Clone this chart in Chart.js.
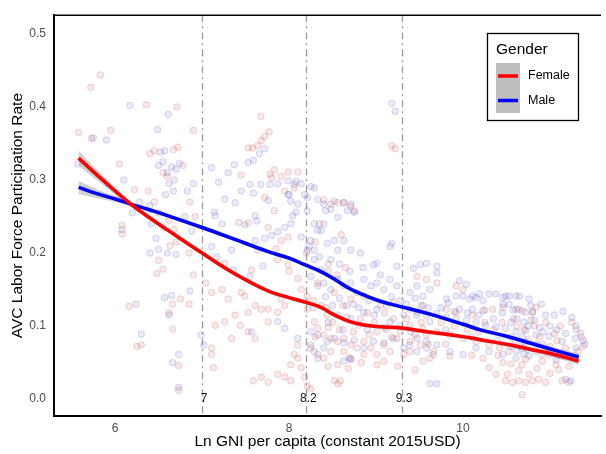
<!DOCTYPE html>
<html>
<head>
<meta charset="utf-8">
<script src="https://cdn.jsdelivr.net/npm/chart.js@4"></script>
<style>
  html, body { margin: 0; padding: 0; background: #fff; }
  canvas { display: block; }
</style>
</head>
<body>
<canvas id="chart" width="606" height="454"></canvas>
<script>
// AVC labor force participation vs. ln GNI per capita, by gender
const seriesNames = ["Female", "Male"];
const xTicks = [6, 8, 10];
const xTickLabels = ["6", "8", "10"];
const yTicks = [0, 0.1, 0.2, 0.3, 0.4, 0.5];
const yTickLabels = ["0.0", "0.1", "0.2", "0.3", "0.4", "0.5"];
const cutoffs = [7, 8.2, 9.3];
const cutoffLabels = ["7", "8.2", "9.3"];

// smoothed fits and their standard errors
const fitX = [5.58, 5.8, 6.0, 6.18, 6.4, 6.61, 7.0, 7.37, 7.76, 8.0, 8.18, 8.36, 8.51, 8.70, 8.89, 9.05, 9.27, 9.6, 10.0, 10.21, 10.5, 10.78, 11.05, 11.33];
const femaleFit = [0.330, 0.306, 0.285, 0.267, 0.248, 0.231, 0.200, 0.172, 0.148, 0.139, 0.133, 0.126, 0.116, 0.106, 0.101, 0.099, 0.0976, 0.092, 0.0855, 0.081, 0.075, 0.068, 0.061, 0.052];
const maleFit = [0.290, 0.281, 0.274, 0.267, 0.259, 0.251, 0.235, 0.219, 0.202, 0.193, 0.184, 0.175, 0.165, 0.151, 0.141, 0.134, 0.127, 0.117, 0.1025, 0.0945, 0.086, 0.0765, 0.067, 0.0577];
const femaleSE = [0.010, 0.007, 0.005, 0.004, 0.003, 0.003, 0.003, 0.003, 0.003, 0.003, 0.003, 0.003, 0.003, 0.003, 0.003, 0.003, 0.003, 0.003, 0.003, 0.003, 0.003, 0.003, 0.004, 0.005];
const maleSE = [0.009, 0.006, 0.004, 0.003, 0.003, 0.003, 0.003, 0.003, 0.003, 0.003, 0.003, 0.003, 0.003, 0.003, 0.003, 0.003, 0.003, 0.003, 0.003, 0.003, 0.003, 0.003, 0.004, 0.005];

// country-year observations [ln GNI, rate]
const femalePts = [
  [5.58,0.365],[5.72,0.427],[5.83,0.444],[5.75,0.358],[5.95,0.368],[6.05,0.322],[6.08,0.238],[6.08,0.226],[6.16,0.127],[6.25,0.072],[6.30,0.074],[6.22,0.287],
  [6.36,0.403],[6.71,0.400],[6.40,0.336],[6.45,0.340],[6.55,0.310],[6.60,0.305],[6.67,0.342],[6.72,0.345],[6.78,0.320],[6.90,0.368],[6.45,0.270],[6.50,0.255],
  [6.55,0.235],[6.62,0.245],[6.63,0.210],[6.68,0.232],[6.50,0.190],[6.48,0.172],[6.55,0.178],[6.70,0.215],[6.85,0.200],[6.66,0.130],[6.66,0.096],[6.73,0.046],
  [6.73,0.012],[6.85,0.130],[6.75,0.137],[6.86,0.270],[6.92,0.250],[6.38,0.285],[6.62,0.118],[6.90,0.170],
  [7.675,0.387],[7.77,0.366],[7.72,0.360],[7.68,0.354],[7.64,0.347],[7.58,0.344],[7.53,0.344],
  [7.45,0.307],[7.78,0.308],[7.91,0.305],[7.99,0.311],[7.83,0.314],
  [7.42,0.242],[7.53,0.241],[7.76,0.235],[7.85,0.206],[7.91,0.217],[7.99,0.222],
  [7.26,0.186],[7.57,0.177],[7.87,0.191],[7.99,0.184],
  [7.11,0.146],[7.23,0.150],[7.30,0.137],[7.49,0.141],[7.61,0.128],[7.53,0.119],[7.68,0.123],[7.38,0.115],[7.44,0.101],[7.15,0.101],[7.26,0.106],[7.34,0.083],
  [7.53,0.092],[7.61,0.083],[7.11,0.070],[7.11,0.061],[7.13,0.043],[7.76,0.106],[7.87,0.119],[7.95,0.128],
  [7.59,0.025],[7.68,0.030],[7.76,0.023],[7.87,0.034],[7.95,0.030],[8.02,0.025],[8.06,0.061],[8.10,0.056],[8.18,0.030],[8.21,0.018],[8.25,0.014],[8.52,0.025],
  [8.56,0.021],[8.59,0.025],
  [8.40,0.273],[8.48,0.267],[8.56,0.269],[8.63,0.269],[8.71,0.264],[8.75,0.258],[8.06,0.289],[7.80,0.303],[7.95,0.285],[7.83,0.258],[7.72,0.276],[8.10,0.311],
  [9.18,0.347],[9.22,0.343],
  [8.21,0.123],[8.29,0.106],[8.33,0.097],[8.40,0.088],[8.48,0.083],[8.56,0.079],[8.63,0.083],[8.71,0.074],[8.78,0.070],[8.86,0.079],[8.94,0.070],[9.01,0.061],
  [9.09,0.074],[9.16,0.065],[9.24,0.083],[9.39,0.079],[9.51,0.074],[9.58,0.088],[8.25,0.070],[8.33,0.061],[8.40,0.056],[8.48,0.065],[8.56,0.047],[8.71,0.056],
  [8.10,0.074],[8.02,0.047],[8.14,0.043],[8.63,0.065],[8.86,0.061],[9.01,0.047],[9.09,0.052],[9.32,0.061],[9.39,0.065],[9.54,0.052],[9.62,0.056],
  [8.33,0.159],[8.52,0.146],[8.71,0.137],[8.86,0.141],[9.05,0.128],[9.20,0.132],[9.39,0.123],[9.54,0.128],[8.44,0.115],[8.82,0.110],[9.20,0.110],[9.39,0.101],
  [9.01,0.092],
  [7.04,0.159],[7.45,0.146],[7.76,0.123],[7.91,0.137],[8.14,0.150],[8.21,0.141],[8.37,0.128],
  [9.47,0.168],[9.58,0.164],[9.70,0.159],[9.92,0.155],[10.0,0.150],[9.81,0.123],[9.92,0.119],[10.11,0.115],[10.23,0.121],[10.34,0.123],[10.46,0.126],[10.61,0.123],
  [10.68,0.121],[10.80,0.119],[10.84,0.126],[9.54,0.097],[9.70,0.092],[9.85,0.088],[10.0,0.083],[10.15,0.079],[10.30,0.074],[10.42,0.070],[10.53,0.065],[10.68,0.070],
  [10.84,0.065],[10.99,0.061],[11.14,0.059],[11.29,0.056],[9.66,0.065],[9.85,0.059],[10.23,0.056],[10.46,0.050],[10.68,0.047],[10.91,0.052],[11.07,0.047],[11.22,0.045],
  [10.30,0.043],[10.38,0.034],[10.49,0.025],[10.57,0.023],[10.64,0.025],[10.72,0.023],[10.80,0.025],[10.87,0.027],[10.95,0.023],[10.68,0.006],[11.14,0.025],[11.22,0.023],
  [10.51,0.034],[10.64,0.039],[10.76,0.034],
  [11.30,0.095],[11.36,0.085],[11.25,0.105],[11.38,0.072],[11.32,0.065],[11.05,0.090],[11.12,0.100],[10.95,0.105],
  [8.20,0.200],[8.30,0.215],[8.45,0.185],[8.55,0.170],[8.65,0.180],[8.00,0.175],[8.10,0.165],[8.60,0.225],[8.35,0.240],
  [8.28,0.135],[8.42,0.125],[8.50,0.105],[8.58,0.095],[8.66,0.112],[8.74,0.092],[8.80,0.101],[8.92,0.088],[8.98,0.105],[9.12,0.095],[9.18,0.085],[9.28,0.092],
  [9.35,0.110],[9.45,0.088],[9.52,0.105],[9.60,0.075],[8.45,0.098],[8.62,0.128],[8.90,0.118],[9.10,0.118],[8.30,0.085],[8.45,0.045],[8.68,0.042],[8.83,0.050],
  [9.25,0.045],[9.45,0.040],
  [10.35,0.095],[10.45,0.105],[10.55,0.085],[10.62,0.100],[10.70,0.095],[10.75,0.082],[10.82,0.100],[10.88,0.085],[10.92,0.075],[11.00,0.072],[11.08,0.080],[11.18,0.070],
  [10.58,0.110],[10.78,0.108],[10.40,0.060],[10.55,0.048],[10.72,0.055],[10.85,0.042],[11.00,0.035],[11.10,0.040],
  [9.75,0.105],[9.90,0.100],[10.05,0.095],[10.18,0.092],[10.25,0.105],[9.80,0.075],[10.10,0.060]
];
const malePts = [
  [5.57,0.322],[5.73,0.357],[5.90,0.355],[6.17,0.402],[6.10,0.300],[6.20,0.255],[6.24,0.130],[6.30,0.089],[6.08,0.232],[6.28,0.270],
  [6.61,0.390],[6.49,0.369],[6.52,0.338],[6.57,0.340],[6.50,0.320],[6.55,0.325],[6.60,0.310],[6.65,0.318],[6.68,0.300],[6.70,0.315],[6.74,0.323],[6.62,0.295],
  [6.67,0.285],[6.58,0.280],[6.40,0.265],[6.42,0.240],[6.47,0.220],[6.50,0.205],[6.60,0.200],[6.70,0.198],[6.57,0.139],[6.65,0.142],[6.62,0.115],[6.73,0.061],
  [6.66,0.050],[6.73,0.016],[6.86,0.148],[6.80,0.250],[6.88,0.230],[6.83,0.285],[6.90,0.295],[6.40,0.200],
  [7.72,0.343],[7.66,0.336],[7.59,0.327],[7.53,0.324],
  [7.37,0.321],[7.11,0.317],[7.19,0.297],[7.30,0.310],[7.45,0.285],[7.55,0.294],[7.59,0.282],[7.675,0.294],[7.78,0.294],[7.87,0.295],[7.99,0.299],
  [7.26,0.274],[7.38,0.269],[7.76,0.272],[8.00,0.280],
  [7.14,0.256],[7.15,0.251],[7.23,0.240],[7.49,0.239],[7.61,0.251],[7.63,0.244],[7.72,0.220],[7.80,0.224],[7.87,0.229],[7.95,0.235],[8.02,0.240],[8.04,0.251],
  [8.08,0.256],
  [7.11,0.209],[7.17,0.195],[7.34,0.204],[7.61,0.217],[7.64,0.204],[7.70,0.182],[7.55,0.168],[7.36,0.177],
  [7.57,0.092],[7.87,0.106],[7.95,0.097],[8.10,0.083],[8.25,0.074],[8.29,0.065],[8.33,0.056],[8.40,0.070],[8.63,0.052],[8.69,0.056],[7.02,0.074],[6.99,0.088],
  [8.06,0.294],[8.08,0.298],[8.14,0.295],[8.25,0.291],[8.29,0.289],[8.40,0.267],[8.42,0.258],[8.48,0.260],[8.33,0.273],[7.99,0.280],[8.02,0.271],[8.10,0.267],
  [8.21,0.276],[8.52,0.271],[8.63,0.269],[8.71,0.267],[8.67,0.258],[8.75,0.256],[8.56,0.249],[8.40,0.240],[8.33,0.231],[8.25,0.217],[8.23,0.209],[8.29,0.204],
  [8.44,0.213],[8.52,0.217],[8.63,0.217],[8.56,0.204],[8.71,0.204],[8.82,0.200],[9.01,0.186],[9.16,0.209],[9.18,0.213],[9.24,0.182],[8.97,0.184],
  [9.18,0.405],[9.22,0.394],
  [8.25,0.168],[8.33,0.155],[8.40,0.159],[8.48,0.150],[8.56,0.164],[8.63,0.155],[8.71,0.159],[8.78,0.146],[8.86,0.164],[8.94,0.155],[9.01,0.159],[9.09,0.150],
  [9.16,0.164],[9.24,0.155],[9.39,0.146],[9.47,0.155],[9.54,0.141],[9.62,0.150],[8.25,0.092],[8.33,0.088],[8.44,0.079],[8.52,0.083],[8.63,0.077],[8.75,0.081],
  [8.86,0.070],[8.97,0.079],[9.09,0.077],[9.20,0.083],[9.32,0.070],[9.39,0.074],[9.47,0.065],[9.58,0.070],[9.66,0.061],[8.71,0.054],[8.56,0.115],[8.71,0.110],
  [8.86,0.119],[9.01,0.123],[9.16,0.106],[9.32,0.115],[9.47,0.115],[9.62,0.106],
  [8.18,0.280],[8.21,0.258],[8.29,0.240],[8.37,0.231],[8.14,0.222],[8.21,0.204],[8.29,0.191],[8.37,0.177],[8.48,0.191],
  [9.43,0.179],[9.51,0.184],[9.58,0.186],[9.70,0.182],[9.96,0.162],[10.04,0.157],[9.81,0.137],[9.83,0.132],[9.92,0.141],[10.0,0.141],[10.08,0.137],[10.15,0.139],
  [10.23,0.135],[10.30,0.144],[10.38,0.144],[10.46,0.139],[10.53,0.141],[10.65,0.141],[10.76,0.137],[9.47,0.119],[9.58,0.115],[9.70,0.117],[9.81,0.112],[9.92,0.110],
  [10.04,0.108],[10.15,0.105],[10.26,0.101],[10.38,0.099],[10.49,0.097],[10.61,0.092],[10.72,0.094],[10.84,0.088],[10.99,0.086],[11.14,0.079],[11.29,0.083],[9.47,0.083],
  [9.58,0.079],[9.70,0.074],[9.85,0.065],[10.0,0.061],[10.15,0.070],[10.30,0.065],[10.46,0.061],[10.61,0.056],[10.76,0.059],[10.91,0.061],[11.07,0.054],[11.22,0.059],
  [9.70,0.173],[10.11,0.141],[10.19,0.144],[10.49,0.141],[10.61,0.141],[10.46,0.130],[10.53,0.130],[10.64,0.123],[10.72,0.119],[10.80,0.119],[9.96,0.123],[10.11,0.123],
  [9.70,0.021],[9.62,0.021],[11.18,0.027],[11.24,0.025],
  [11.30,0.100],[11.35,0.090],[11.25,0.112],[11.38,0.080],[11.30,0.070],[11.40,0.075],[11.05,0.115],[11.15,0.120],[10.90,0.130],[10.95,0.115],
  [10.62,0.066],[10.66,0.072],[10.70,0.062],[10.74,0.068],[10.60,0.080],[10.68,0.085],[10.72,0.078],
  [8.28,0.125],[8.42,0.140],[8.50,0.128],[8.58,0.138],[8.66,0.128],[8.74,0.130],[8.80,0.125],[8.92,0.135],[8.98,0.115],[9.12,0.128],[9.18,0.140],[9.28,0.135],
  [9.35,0.130],[9.45,0.138],[9.52,0.128],[9.60,0.125],[8.45,0.105],[8.62,0.095],[8.90,0.095],[9.10,0.098],[9.28,0.100],[9.40,0.092],[8.35,0.195],[8.45,0.175],
  [8.58,0.185],[8.70,0.175],[8.85,0.180],[9.05,0.170],
  [10.35,0.110],[10.45,0.118],[10.55,0.105],[10.62,0.110],[10.70,0.105],[10.75,0.100],[10.82,0.108],[10.88,0.098],[10.92,0.092],[11.00,0.100],[11.08,0.095],[11.18,0.090],
  [10.58,0.122],[10.78,0.128],[10.40,0.080],[10.55,0.072],[10.85,0.075],[11.00,0.065],[11.10,0.060],
  [9.75,0.125],[9.90,0.120],[10.05,0.118],[10.18,0.115],[10.25,0.122],[9.80,0.095],[10.10,0.085]
];

const FONT = "'Liberation Sans', Arial, Helvetica, sans-serif";
const RED = "#ff0000";
const BLUE = "#0000ff";

const toXY = pts => pts.map(p => ({ x: p[0], y: p[1] }));
// fit curve, optionally shifted up or down by its standard error
const curve = (ys, se = null, sign = 0) => fitX.map((x, i) => ({ x: x, y: ys[i] + (se ? sign * se[i] : 0) }));

// dash-dot cutoff lines with their labels along the bottom
const cutoffPlugin = {
  id: "cutoffs",
  beforeDatasetsDraw(chart) {
    const { ctx, chartArea, scales } = chart;
    ctx.save();
    ctx.strokeStyle = "rgba(150,150,150,0.95)";
    ctx.lineWidth = 1.3;
    ctx.setLineDash([7, 4, 2, 4]);
    cutoffs.forEach(v => {
      const px = Math.round(scales.x.getPixelForValue(v)) + 0.5;
      ctx.beginPath();
      ctx.moveTo(px, chartArea.top);
      ctx.lineTo(px, chartArea.bottom);
      ctx.stroke();
    });
    ctx.setLineDash([]);
    ctx.fillStyle = "#111";
    ctx.font = "12px " + FONT;
    ctx.textAlign = "center";
    ctx.textBaseline = "middle";
    cutoffs.forEach((v, i) => {
      const px = scales.x.getPixelForValue(v);
      ctx.fillText(cutoffLabels[i], px + 2, scales.y.getPixelForValue(0));
    });
    ctx.restore();
  },
  afterDraw(chart) {
    // thin top edge of the panel
    const { ctx, chartArea } = chart;
    ctx.save();
    ctx.strokeStyle = "#000";
    ctx.lineWidth = 1.5;
    ctx.beginPath();
    ctx.moveTo(chartArea.left, chartArea.top);
    ctx.lineTo(chartArea.right, chartArea.top);
    ctx.stroke();
    ctx.restore();
  }
};

// boxed legend with a grey key background
const legendPlugin = {
  id: "genderLegend",
  afterDraw(chart) {
    const { ctx } = chart;
    const colors = [RED, BLUE];
    ctx.save();
    ctx.fillStyle = "#fff";
    ctx.fillRect(487, 33, 91, 87);
    ctx.strokeStyle = "#000";
    ctx.lineWidth = 1.3;
    ctx.strokeRect(487.5, 33.5, 91, 87);
    ctx.fillStyle = "#000";
    ctx.font = "15.5px " + FONT;
    ctx.textAlign = "left";
    ctx.textBaseline = "middle";
    ctx.fillText("Gender", 496, 49.5);
    ctx.fillStyle = "#bebebe";
    ctx.fillRect(496, 63, 24, 50);
    ctx.font = "12.5px " + FONT;
    seriesNames.forEach((name, i) => {
      const y = 76 + i * 24.5;
      ctx.strokeStyle = colors[i];
      ctx.lineWidth = 3.5;
      ctx.beginPath();
      ctx.moveTo(498, y);
      ctx.lineTo(518, y);
      ctx.stroke();
      ctx.fillStyle = "#000";
      ctx.fillText(name, 528, y);
    });
    ctx.restore();
  }
};

const band = (data, target) => ({
  type: "line",
  data: data,
  showLine: true,
  borderWidth: 0,
  borderColor: "rgba(0,0,0,0)",
  pointRadius: 0,
  fill: target,
  backgroundColor: "rgba(150,150,150,0.45)",
  tension: 0.4,
  order: 2
});

const fitLine = (data, color) => ({
  type: "line",
  data: data,
  showLine: true,
  borderColor: color,
  backgroundColor: color,
  borderWidth: 3.5,
  pointRadius: 0,
  fill: false,
  tension: 0.4,
  order: 1
});

const dots = (data, fillCol, edgeCol) => ({
  type: "scatter",
  data: data,
  pointRadius: 3.3,
  pointBackgroundColor: fillCol,
  pointBorderColor: edgeCol,
  pointBorderWidth: 1,
  order: 3
});

new Chart(document.getElementById("chart"), {
  type: "scatter",
  data: {
    datasets: [
      fitLine(curve(femaleFit), RED),
      fitLine(curve(maleFit), BLUE),
      band(curve(femaleFit, femaleSE, 1), "+1"),
      band(curve(femaleFit, femaleSE, -1), false),
      band(curve(maleFit, maleSE, 1), "+1"),
      band(curve(maleFit, maleSE, -1), false),
      dots(toXY(femalePts), "rgba(190,50,50,0.11)", "rgba(170,40,40,0.16)"),
      dots(toXY(malePts), "rgba(60,60,200,0.11)", "rgba(50,50,170,0.16)")
    ]
  },
  options: {
    responsive: false,
    animation: false,
    events: [],
    layout: { padding: { top: 7, right: 0, left: 0, bottom: 0 } },
    plugins: {
      legend: { display: false },
      tooltip: { enabled: false }
    },
    scales: {
      x: {
        type: "linear",
        min: 5.297,
        max: 11.587,
        afterBuildTicks: s => { s.ticks = xTicks.map(v => ({ value: v })); },
        afterFit: s => { s.height = 38; },
        grid: { display: false, drawTicks: false },
        border: { display: true, color: "#000", width: 2 },
        ticks: {
          padding: 5,
          color: "#4d4d4d",
          font: { family: FONT, size: 12 },
          callback: (v, i) => xTickLabels[i]
        },
        title: {
          display: true,
          text: "Ln GNI per capita (constant 2015USD)",
          color: "#000",
          font: { family: FONT, size: 15.5 },
          padding: { top: 0, bottom: 3 }
        }
      },
      y: {
        type: "linear",
        min: -0.0232,
        max: 0.5258,
        afterBuildTicks: s => { s.ticks = yTicks.map(v => ({ value: v })); },
        afterFit: s => { s.width = 54; },
        grid: { display: false, drawTicks: false },
        border: { display: true, color: "#000", width: 2 },
        ticks: {
          padding: 8,
          color: "#4d4d4d",
          font: { family: FONT, size: 12 },
          callback: (v, i) => yTickLabels[i]
        },
        title: {
          display: true,
          text: "AVC Labor Force Participation Rate",
          color: "#000",
          font: { family: FONT, size: 15.5 },
          padding: { top: 8, bottom: 0 }
        }
      }
    }
  },
  plugins: [cutoffPlugin, legendPlugin]
});
</script>
</body>
</html>
